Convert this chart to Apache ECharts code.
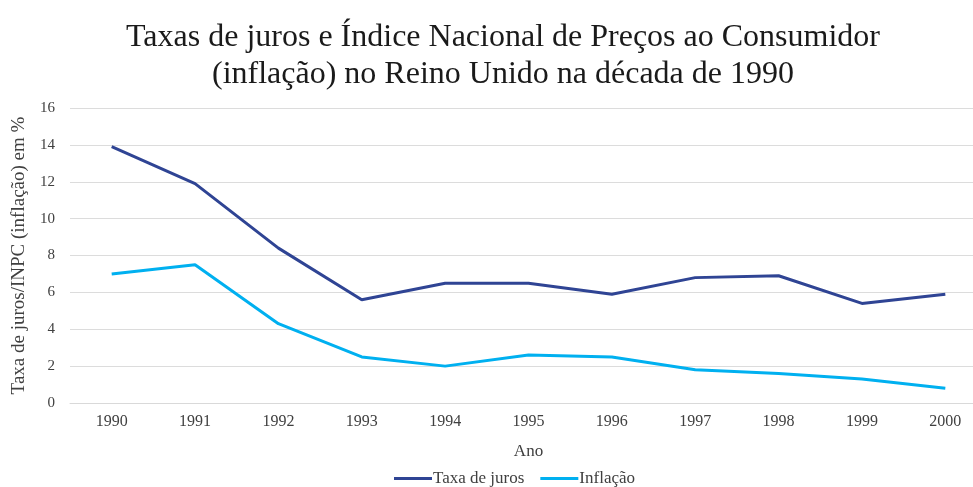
<!DOCTYPE html>
<html>
<head>
<meta charset="utf-8">
<script src="https://cdn.jsdelivr.net/npm/echarts@6/dist/echarts.min.js"></script>
<style>html,body{margin:0;padding:0;background:#fff}#c{width:973px;height:487px}</style>
</head>
<body>
<div id="c"></div>
<script>
const anos = ['1990','1991','1992','1993','1994','1995','1996','1997','1998','1999','2000'];
const taxaJuros = [13.9, 11.9, 8.4, 5.6, 6.5, 6.5, 5.9, 6.8, 6.9, 5.4, 5.9];
const inflacao = [7.0, 7.5, 4.3, 2.5, 2.0, 2.6, 2.5, 1.8, 1.6, 1.3, 0.8];

const serif = '"Liberation Serif", "DejaVu Serif", serif';
const chart = echarts.init(document.getElementById('c'));
chart.setOption({
  animation: false,
  backgroundColor: '#fff',
  title: {
    text: 'Taxas de juros e Índice Nacional de Preços ao Consumidor\n(inflação) no Reino Unido na década de 1990',
    left: 498, top: 14, textAlign: 'center',
    textStyle: { fontFamily: serif, fontSize: 32, fontWeight: 'normal', color: '#1a1a1a', lineHeight: 37 }
  },
  legend: {
    top: 465, left: 389,
    itemWidth: 38, itemHeight: 3, itemGap: 16,
    icon: 'rect',
    textStyle: { fontFamily: serif, fontSize: 17, color: '#404040', padding: [0,0,0,-4] },
    data: ['Taxa de juros', 'Inflação']
  },
  grid: { left: 70, top: 108, width: 917, height: 295, containLabel: false, outerBoundsMode: 'none' },
  xAxis: {
    type: 'category', data: anos, boundaryGap: true,
    name: 'Ano', nameLocation: 'middle', nameGap: 40,
    nameTextStyle: { fontFamily: serif, fontSize: 17, color: '#404040' },
    axisLine: { lineStyle: { color: '#d9d9d9', width: 1 } },
    axisTick: { show: false },
    axisLabel: { fontFamily: serif, fontSize: 16, color: '#404040', margin: 11 }
  },
  yAxis: {
    type: 'value', min: 0, max: 16, interval: 2,
    name: 'Taxa de juros/INPC (inflação) em %', nameLocation: 'middle', nameGap: 41,
    nameTextStyle: { fontFamily: serif, fontSize: 19, color: '#404040' },
    axisLine: { show: false }, axisTick: { show: false },
    axisLabel: { fontFamily: serif, fontSize: 15, color: '#404040', margin: 15 },
    splitLine: { lineStyle: { color: '#dcdcdc', width: 1 } }
  },
  series: [
    { name: 'Taxa de juros', type: 'line', data: taxaJuros, symbol: 'none',
      lineStyle: { color: '#2F4494', width: 3 }, itemStyle: { color: '#2F4494' } },
    { name: 'Inflação', type: 'line', data: inflacao, symbol: 'none',
      lineStyle: { color: '#00B0F0', width: 3 }, itemStyle: { color: '#00B0F0' } }
  ]
});
</script>
</body>
</html>
